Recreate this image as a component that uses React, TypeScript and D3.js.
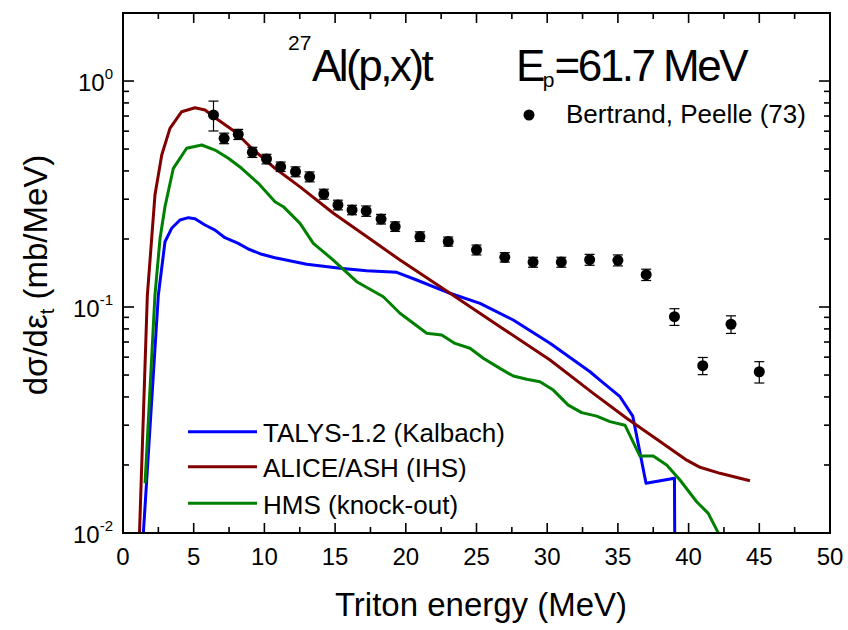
import React from "react";
import * as d3 from "d3";

// plot box, in page pixels
const W = 848;
const H = 630;
const plotLeft = 123;
const plotRight = 830;
const plotTop = 13;
const plotBottom = 533;

// Bertrand, Peelle (73) experimental points
const expEnergy = [6.4, 7.15, 8.15, 9.15, 10.15, 11.15, 12.2, 13.2, 14.2, 15.2, 16.2, 17.2, 18.25, 19.25, 21, 23, 25, 27, 29, 31, 33, 35, 37, 39, 41, 43, 45];
const expValue = [0.708, 0.558, 0.581, 0.484, 0.452, 0.418, 0.397, 0.377, 0.316, 0.283, 0.269, 0.266, 0.245, 0.227, 0.205, 0.195, 0.179, 0.166, 0.158, 0.158, 0.162, 0.161, 0.139, 0.0906, 0.055, 0.0839, 0.0517];
const expError = [0.107, 0.03, 0.03, 0.025, 0.022, 0.02, 0.02, 0.019, 0.016, 0.014, 0.013, 0.014, 0.012, 0.011, 0.01, 0.009, 0.009, 0.008, 0.008, 0.008, 0.009, 0.009, 0.008, 0.0077, 0.0048, 0.0075, 0.0056];

// TALYS-1.2 (Kalbach)
const talysEnergy = [1.35, 1.44, 2.5, 2.97, 3.44, 4.03, 4.62, 5.09, 5.8, 6.51, 7.21, 8.15, 8.86, 9.81, 10.75, 12.99, 15.35, 17.23, 19.36, 20.77, 23.13, 25.25, 27.6, 30.2, 33.03, 33.73, 35.15, 36.05, 36.99, 39.0, 39.04];
const talysValue = [0.009, 0.01, 0.113, 0.1945, 0.223, 0.2427, 0.2485, 0.2459, 0.2306, 0.219, 0.2026, 0.1913, 0.1806, 0.1711, 0.1653, 0.1545, 0.1483, 0.1447, 0.1424, 0.1317, 0.115, 0.1038, 0.0876, 0.0691, 0.0517, 0.0475, 0.0401, 0.0329, 0.0166, 0.01746, 0.005];

// ALICE/ASH (IHS)
const aliceEnergy = [1.15, 1.72, 2.26, 2.74, 3.32, 4.15, 5.09, 5.8, 6.74, 7.92, 9.1, 10.75, 12.52, 14.88, 17.23, 19.59, 23.13, 26.66, 30.2, 33.26, 35.62, 37.98, 39.87, 40.81, 42.22, 43.63, 44.34];
const aliceValue = [0.0093, 0.112, 0.313, 0.4706, 0.6176, 0.7315, 0.762, 0.744, 0.672, 0.5966, 0.504, 0.411, 0.34, 0.26, 0.205, 0.1614, 0.115, 0.0818, 0.0583, 0.0415, 0.0322, 0.0254, 0.021, 0.01953, 0.01837, 0.01746, 0.01704];

// HMS (knock-out)
const hmsEnergy = [1.56, 2.26, 2.62, 2.97, 3.56, 4.03, 4.5, 5.57, 6.51, 7.45, 8.39, 9.57, 10.75, 11.34, 12.52, 13.46, 14.87, 16.53, 18.41, 19.59, 21.48, 22.54, 23.48, 24.54, 25.48, 26.66, 27.6, 28.55, 29.49, 30.43, 31.49, 32.44, 33.5, 34.44, 35.5, 36.56, 37.5, 38.45, 39.39, 40.57, 41.39, 42.1, 42.3];
const hmsValue = [0.0166, 0.113, 0.2014, 0.278, 0.411, 0.455, 0.504, 0.521, 0.495, 0.455, 0.411, 0.3526, 0.2924, 0.278, 0.2346, 0.1914, 0.1614, 0.1294, 0.111, 0.0938, 0.0765, 0.0752, 0.069, 0.0657, 0.0593, 0.0535, 0.0495, 0.0479, 0.0467, 0.0429, 0.0368, 0.0341, 0.0329, 0.0311, 0.03, 0.0219, 0.0219, 0.02, 0.01716, 0.01375, 0.01222, 0.01, 0.009];

const xTickValues = [0, 5, 10, 15, 20, 25, 30, 35, 40, 45, 50];
const yDecades = [0.01, 0.1, 1];
const yExponents = ["-2", "-1", "0"];

const legendNames = ["TALYS-1.2 (Kalbach)", "ALICE/ASH (IHS)", "HMS (knock-out)"];
const legendColors = ["#0000ff", "#800000", "#008000"];

const font = "'Liberation Sans', Arial, Helvetica, sans-serif";

export default function App() {
  const x = d3.scaleLinear().domain([0, 50]).range([plotLeft, plotRight]);
  const y = d3.scaleLog().domain([0.01, 2]).range([plotBottom, plotTop]);
  const line = d3.line<[number, number]>().x(d => x(d[0])).y(d => y(d[1]));

  const curves = [
    { e: talysEnergy, v: talysValue, color: legendColors[0] },
    { e: aliceEnergy, v: aliceValue, color: legendColors[1] },
    { e: hmsEnergy, v: hmsValue, color: legendColors[2] },
  ];

  const xMinor = d3.range(2.5, 50, 5);
  const yMinor: number[] = [];
  yDecades.forEach(d => {
    for (let k = 2; k <= 9; k++) if (d * k <= 2) yMinor.push(d * k);
  });

  const majLen = 10;
  const minLen = 6;

  return (
    <svg width={W} height={H} style={{ position: "absolute", left: 0, top: 0, background: "#fff" }} fontFamily={font}>
      <defs>
        <clipPath id="plotClip">
          <rect x={plotLeft} y={plotTop} width={plotRight - plotLeft} height={plotBottom - plotTop} />
        </clipPath>
      </defs>

      {/* model curves */}
      <g clipPath="url(#plotClip)">
        {curves.map((c, i) => (
          <path key={i} d={line(c.e.map((e, j) => [e, c.v[j]]) as [number, number][]) || ""}
            fill="none" stroke={c.color} strokeWidth={3} strokeLinejoin="round" />
        ))}
      </g>

      {/* experimental points */}
      <g>
        {expEnergy.map((e, i) => {
          const cx = x(e);
          const yHi = y(expValue[i] + expError[i]);
          const yLo = y(expValue[i] - expError[i]);
          return (
            <g key={i} stroke="#000" strokeWidth={1.2}>
              <line x1={cx} x2={cx} y1={yHi} y2={yLo} />
              <line x1={cx - 5} x2={cx + 5} y1={yHi} y2={yHi} />
              <line x1={cx - 5} x2={cx + 5} y1={yLo} y2={yLo} />
              <circle cx={cx} cy={y(expValue[i])} r={5.5} fill="#000" stroke="none" />
            </g>
          );
        })}
      </g>

      {/* frame and ticks */}
      <rect x={plotLeft} y={plotTop} width={plotRight - plotLeft} height={plotBottom - plotTop} fill="none" stroke="#000" strokeWidth={2} />
      <g stroke="#000" strokeWidth={1.6}>
        {xTickValues.map(t => (
          <g key={"xt" + t}>
            <line x1={x(t)} x2={x(t)} y1={plotBottom} y2={plotBottom - majLen} />
            <line x1={x(t)} x2={x(t)} y1={plotTop} y2={plotTop + majLen} />
          </g>
        ))}
        {xMinor.map(t => (
          <g key={"xm" + t}>
            <line x1={x(t)} x2={x(t)} y1={plotBottom} y2={plotBottom - minLen} />
            <line x1={x(t)} x2={x(t)} y1={plotTop} y2={plotTop + minLen} />
          </g>
        ))}
        {yDecades.map(t => (
          <g key={"yt" + t}>
            <line x1={plotLeft} x2={plotLeft + majLen + 1} y1={y(t)} y2={y(t)} />
            <line x1={plotRight} x2={plotRight - majLen - 1} y1={y(t)} y2={y(t)} />
          </g>
        ))}
        {yMinor.map(t => (
          <g key={"ym" + t}>
            <line x1={plotLeft} x2={plotLeft + minLen} y1={y(t)} y2={y(t)} />
            <line x1={plotRight} x2={plotRight - minLen} y1={y(t)} y2={y(t)} />
          </g>
        ))}
      </g>

      {/* tick labels */}
      <g fontSize={24} fill="#000">
        {xTickValues.map(t => (
          <text key={"xl" + t} x={x(t)} y={565} textAnchor="middle">{t}</text>
        ))}
        {yDecades.map((t, i) => (
          <text key={"yl" + t} x={113} y={y(t) + 9.5} textAnchor="end">
            10<tspan fontSize={15} dy={-12}>{yExponents[i]}</tspan>
          </text>
        ))}
      </g>

      {/* axis titles */}
      <text x={481} y={616} textAnchor="middle" fontSize={33}>Triton energy (MeV)</text>
      <text transform="translate(47,275) rotate(-90)" textAnchor="middle" fontSize={33}>
        dσ/dε<tspan fontSize={20} dy={7}>t</tspan><tspan dy={-7}>{"\u00a0(mb/MeV)"}</tspan>
      </text>

      {/* reaction label */}
      <text x={288} y={50} fontSize={21}>27</text>
      <text x={312} y={81} fontSize={44} letterSpacing={-2.5}>Al(p,x)t</text>
      <text x={516} y={81} fontSize={44} letterSpacing={-2.5}>
        E<tspan fontSize={21} dy={6} letterSpacing={0}>p</tspan><tspan dy={-6}>=61.7 MeV</tspan>
      </text>

      {/* legend: data */}
      <circle cx={529} cy={115} r={5.5} fill="#000" />
      <text x={566} y={123} fontSize={26}>Bertrand, Peelle (73)</text>

      {/* legend: models */}
      {legendNames.map((n, i) => {
        const ly = [431.7, 466.7, 503.3][i];
        return (
          <g key={n}>
            <line x1={188} x2={257} y1={ly} y2={ly} stroke={legendColors[i]} strokeWidth={3} />
            <text x={263} y={ly + 10.5} fontSize={26}>{n}</text>
          </g>
        );
      })}
    </svg>
  );
}
